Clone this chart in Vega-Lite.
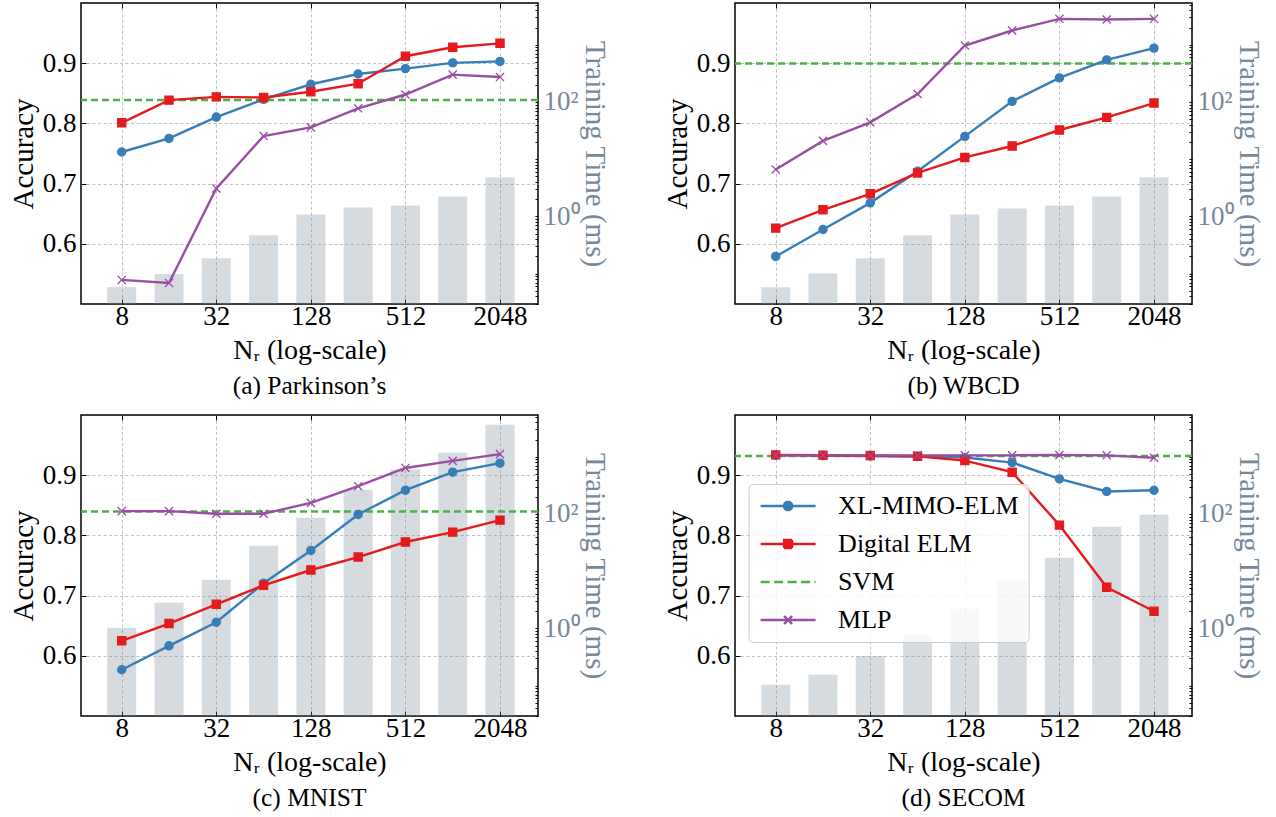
{
  "$schema": "https://vega.github.io/schema/vega-lite/v6.json",
  "background": "white",
  "padding": {"left": 8, "top": -10, "right": 5, "bottom": 5},
  "datasets": {
    "acc": [
      {"p": "a", "m": "XL-MIMO-ELM", "n": 8, "v": 0.7525}, {"p": "a", "m": "XL-MIMO-ELM", "n": 16, "v": 0.775}, {"p": "a", "m": "XL-MIMO-ELM", "n": 32, "v": 0.8105}, {"p": "a", "m": "XL-MIMO-ELM", "n": 64, "v": 0.840}, {"p": "a", "m": "XL-MIMO-ELM", "n": 128, "v": 0.865}, {"p": "a", "m": "XL-MIMO-ELM", "n": 256, "v": 0.882}, {"p": "a", "m": "XL-MIMO-ELM", "n": 512, "v": 0.891}, {"p": "a", "m": "XL-MIMO-ELM", "n": 1024, "v": 0.9005}, {"p": "a", "m": "XL-MIMO-ELM", "n": 2048, "v": 0.903},
      {"p": "a", "m": "Digital ELM", "n": 8, "v": 0.801}, {"p": "a", "m": "Digital ELM", "n": 16, "v": 0.8387}, {"p": "a", "m": "Digital ELM", "n": 32, "v": 0.844}, {"p": "a", "m": "Digital ELM", "n": 64, "v": 0.843}, {"p": "a", "m": "Digital ELM", "n": 128, "v": 0.8525}, {"p": "a", "m": "Digital ELM", "n": 256, "v": 0.866}, {"p": "a", "m": "Digital ELM", "n": 512, "v": 0.9116}, {"p": "a", "m": "Digital ELM", "n": 1024, "v": 0.9265}, {"p": "a", "m": "Digital ELM", "n": 2048, "v": 0.933},
      {"p": "a", "m": "MLP", "n": 8, "v": 0.540}, {"p": "a", "m": "MLP", "n": 16, "v": 0.535}, {"p": "a", "m": "MLP", "n": 32, "v": 0.692}, {"p": "a", "m": "MLP", "n": 64, "v": 0.779}, {"p": "a", "m": "MLP", "n": 128, "v": 0.7934}, {"p": "a", "m": "MLP", "n": 256, "v": 0.825}, {"p": "a", "m": "MLP", "n": 512, "v": 0.848}, {"p": "a", "m": "MLP", "n": 1024, "v": 0.881}, {"p": "a", "m": "MLP", "n": 2048, "v": 0.877},
      {"p": "b", "m": "XL-MIMO-ELM", "n": 8, "v": 0.579}, {"p": "b", "m": "XL-MIMO-ELM", "n": 16, "v": 0.6238}, {"p": "b", "m": "XL-MIMO-ELM", "n": 32, "v": 0.668}, {"p": "b", "m": "XL-MIMO-ELM", "n": 64, "v": 0.7205}, {"p": "b", "m": "XL-MIMO-ELM", "n": 128, "v": 0.7784}, {"p": "b", "m": "XL-MIMO-ELM", "n": 256, "v": 0.8366}, {"p": "b", "m": "XL-MIMO-ELM", "n": 512, "v": 0.8756}, {"p": "b", "m": "XL-MIMO-ELM", "n": 1024, "v": 0.9055}, {"p": "b", "m": "XL-MIMO-ELM", "n": 2048, "v": 0.925},
      {"p": "b", "m": "Digital ELM", "n": 8, "v": 0.626}, {"p": "b", "m": "Digital ELM", "n": 16, "v": 0.6565}, {"p": "b", "m": "Digital ELM", "n": 32, "v": 0.683}, {"p": "b", "m": "Digital ELM", "n": 64, "v": 0.7177}, {"p": "b", "m": "Digital ELM", "n": 128, "v": 0.7435}, {"p": "b", "m": "Digital ELM", "n": 256, "v": 0.7624}, {"p": "b", "m": "Digital ELM", "n": 512, "v": 0.789}, {"p": "b", "m": "Digital ELM", "n": 1024, "v": 0.81}, {"p": "b", "m": "Digital ELM", "n": 2048, "v": 0.8338},
      {"p": "b", "m": "MLP", "n": 8, "v": 0.7235}, {"p": "b", "m": "MLP", "n": 16, "v": 0.771}, {"p": "b", "m": "MLP", "n": 32, "v": 0.8017}, {"p": "b", "m": "MLP", "n": 64, "v": 0.8488}, {"p": "b", "m": "MLP", "n": 128, "v": 0.9294}, {"p": "b", "m": "MLP", "n": 256, "v": 0.9543}, {"p": "b", "m": "MLP", "n": 512, "v": 0.9737}, {"p": "b", "m": "MLP", "n": 1024, "v": 0.9726}, {"p": "b", "m": "MLP", "n": 2048, "v": 0.9737},
      {"p": "c", "m": "XL-MIMO-ELM", "n": 8, "v": 0.5768}, {"p": "c", "m": "XL-MIMO-ELM", "n": 16, "v": 0.6166}, {"p": "c", "m": "XL-MIMO-ELM", "n": 32, "v": 0.6558}, {"p": "c", "m": "XL-MIMO-ELM", "n": 64, "v": 0.7204}, {"p": "c", "m": "XL-MIMO-ELM", "n": 128, "v": 0.775}, {"p": "c", "m": "XL-MIMO-ELM", "n": 256, "v": 0.8348}, {"p": "c", "m": "XL-MIMO-ELM", "n": 512, "v": 0.8751}, {"p": "c", "m": "XL-MIMO-ELM", "n": 1024, "v": 0.905}, {"p": "c", "m": "XL-MIMO-ELM", "n": 2048, "v": 0.92},
      {"p": "c", "m": "Digital ELM", "n": 8, "v": 0.6249}, {"p": "c", "m": "Digital ELM", "n": 16, "v": 0.6536}, {"p": "c", "m": "Digital ELM", "n": 32, "v": 0.6856}, {"p": "c", "m": "Digital ELM", "n": 64, "v": 0.7171}, {"p": "c", "m": "Digital ELM", "n": 128, "v": 0.7425}, {"p": "c", "m": "Digital ELM", "n": 256, "v": 0.764}, {"p": "c", "m": "Digital ELM", "n": 512, "v": 0.789}, {"p": "c", "m": "Digital ELM", "n": 1024, "v": 0.8055}, {"p": "c", "m": "Digital ELM", "n": 2048, "v": 0.8254},
      {"p": "c", "m": "MLP", "n": 8, "v": 0.8403}, {"p": "c", "m": "MLP", "n": 16, "v": 0.8403}, {"p": "c", "m": "MLP", "n": 32, "v": 0.836}, {"p": "c", "m": "MLP", "n": 64, "v": 0.836}, {"p": "c", "m": "MLP", "n": 128, "v": 0.854}, {"p": "c", "m": "MLP", "n": 256, "v": 0.8818}, {"p": "c", "m": "MLP", "n": 512, "v": 0.912}, {"p": "c", "m": "MLP", "n": 1024, "v": 0.9238}, {"p": "c", "m": "MLP", "n": 2048, "v": 0.935},
      {"p": "d", "m": "XL-MIMO-ELM", "n": 8, "v": 0.9331}, {"p": "d", "m": "XL-MIMO-ELM", "n": 16, "v": 0.9326}, {"p": "d", "m": "XL-MIMO-ELM", "n": 32, "v": 0.932}, {"p": "d", "m": "XL-MIMO-ELM", "n": 64, "v": 0.931}, {"p": "d", "m": "XL-MIMO-ELM", "n": 128, "v": 0.9293}, {"p": "d", "m": "XL-MIMO-ELM", "n": 256, "v": 0.921}, {"p": "d", "m": "XL-MIMO-ELM", "n": 512, "v": 0.8939}, {"p": "d", "m": "XL-MIMO-ELM", "n": 1024, "v": 0.873}, {"p": "d", "m": "XL-MIMO-ELM", "n": 2048, "v": 0.875},
      {"p": "d", "m": "Digital ELM", "n": 8, "v": 0.9337}, {"p": "d", "m": "Digital ELM", "n": 16, "v": 0.9331}, {"p": "d", "m": "Digital ELM", "n": 32, "v": 0.9326}, {"p": "d", "m": "Digital ELM", "n": 64, "v": 0.9315}, {"p": "d", "m": "Digital ELM", "n": 128, "v": 0.9243}, {"p": "d", "m": "Digital ELM", "n": 256, "v": 0.905}, {"p": "d", "m": "Digital ELM", "n": 512, "v": 0.8171}, {"p": "d", "m": "Digital ELM", "n": 1024, "v": 0.7138}, {"p": "d", "m": "Digital ELM", "n": 2048, "v": 0.674},
      {"p": "d", "m": "MLP", "n": 8, "v": 0.933}, {"p": "d", "m": "MLP", "n": 16, "v": 0.933}, {"p": "d", "m": "MLP", "n": 32, "v": 0.933}, {"p": "d", "m": "MLP", "n": 64, "v": 0.933}, {"p": "d", "m": "MLP", "n": 128, "v": 0.933}, {"p": "d", "m": "MLP", "n": 256, "v": 0.933}, {"p": "d", "m": "MLP", "n": 512, "v": 0.9335}, {"p": "d", "m": "MLP", "n": 1024, "v": 0.933}, {"p": "d", "m": "MLP", "n": 2048, "v": 0.929}
    ],
    "time": [
      {"p": "a", "n": 8, "t": 0.0582}, {"p": "a", "n": 16, "t": 0.0982}, {"p": "a", "n": 32, "t": 0.185}, {"p": "a", "n": 64, "t": 0.467}, {"p": "a", "n": 128, "t": 1.086}, {"p": "a", "n": 256, "t": 1.44}, {"p": "a", "n": 512, "t": 1.56}, {"p": "a", "n": 1024, "t": 2.24}, {"p": "a", "n": 2048, "t": 4.82},
      {"p": "b", "n": 8, "t": 0.058}, {"p": "b", "n": 16, "t": 0.101}, {"p": "b", "n": 32, "t": 0.185}, {"p": "b", "n": 64, "t": 0.467}, {"p": "b", "n": 128, "t": 1.086}, {"p": "b", "n": 256, "t": 1.38}, {"p": "b", "n": 512, "t": 1.56}, {"p": "b", "n": 1024, "t": 2.24}, {"p": "b", "n": 2048, "t": 4.82},
      {"p": "c", "n": 8, "t": 1.03}, {"p": "c", "n": 16, "t": 2.81}, {"p": "c", "n": 32, "t": 7.1}, {"p": "c", "n": 64, "t": 27.9}, {"p": "c", "n": 128, "t": 86.1}, {"p": "c", "n": 256, "t": 265}, {"p": "c", "n": 512, "t": 601}, {"p": "c", "n": 1024, "t": 1178}, {"p": "c", "n": 2048, "t": 3631},
      {"p": "d", "n": 8, "t": 0.1035}, {"p": "d", "n": 16, "t": 0.155}, {"p": "d", "n": 32, "t": 0.329}, {"p": "d", "n": 64, "t": 0.774}, {"p": "d", "n": 128, "t": 2.21}, {"p": "d", "n": 256, "t": 6.81}, {"p": "d", "n": 512, "t": 17.2}, {"p": "d", "n": 1024, "t": 59.8}, {"p": "d", "n": 2048, "t": 97.0}
    ],
    "svm": [
      {"p": "a", "v": 0.839}, {"p": "b", "v": 0.8995}, {"p": "c", "v": 0.8398}, {"p": "d", "v": 0.932}
    ]
  },
  "columns": 2,
  "spacing": {"row": 111, "column": 197},
  "bounds": "flush",
  "resolve": {"scale": {"color": "independent", "shape": "independent", "stroke": "independent"}},
  "concat": [
    {
      "width": 457, "height": 301,
      "title": {"text": "(a) Parkinson’s", "orient": "bottom", "offset": 9},
      "layer": [
        {
          "data": {"name": "time"},
          "transform": [{"filter": "datum.p === 'a'"}],
          "mark": {"type": "bar", "size": 29, "color": "#778899", "opacity": 0.3},
          "encoding": {
            "x": {"field": "n", "type": "quantitative", "scale": {"type": "log", "base": 2, "domain": [4.74, 3322], "nice": false}, "axis": {"orient": "bottom", "values": [8, 32, 128, 512, 2048], "format": "d", "title": "Nᵣ (log-scale)", "titleFontSize": 28, "titlePadding": 7, "labelPadding": 4.5, "grid": true}},
            "y": {"field": "t", "type": "quantitative", "scale": {"type": "log", "domain": [0.0295, 5370], "nice": false}, "axis": {"orient": "right", "values": [0.03, 0.04, 0.05, 0.06, 0.07, 0.08, 0.09, 0.1, 0.2, 0.3, 0.4, 0.5, 0.6, 0.7, 0.8, 0.9, 1, 2, 3, 4, 5, 6, 7, 8, 9, 10, 20, 30, 40, 50, 60, 70, 80, 90, 100, 200, 300, 400, 500, 600, 700, 800, 900, 1000, 2000, 3000, 4000, 5000], "labelExpr": "datum.value == 1 ? '10⁰' : datum.value == 100 ? '10²' : ''", "labelOverlap": false, "labelColor": "#778899", "title": "Training Time (ms)", "titleColor": "#778899", "titlePadding": 0, "labelPadding": 8, "tickSize": -3, "grid": false}},
            "y2": {"datum": 0.0295}
          }
        },
        {
          "layer": [
            {
              "data": {"name": "svm"},
              "transform": [{"filter": "datum.p === 'a'"}],
              "mark": {"type": "rule", "color": "#4daf4a", "strokeWidth": 2.5, "strokeDash": [7, 4]},
              "encoding": {"y": {"field": "v", "type": "quantitative", "scale": {"domain": [0.5, 1.0], "nice": false, "zero": false}, "axis": {"orient": "left", "values": [0.6, 0.7, 0.8, 0.9], "format": ".1f", "title": "Accuracy", "titlePadding": 4, "labelPadding": 10, "grid": true}}}
            },
            {
              "data": {"name": "acc"},
              "transform": [{"filter": "datum.p === 'a'"}],
              "mark": {"type": "line", "strokeWidth": 2.4},
              "encoding": {
                "x": {"field": "n", "type": "quantitative", "axis": {"orient": "top", "values": [8, 32, 128, 512, 2048], "labels": false, "title": null, "grid": false}},
                "y": {"field": "v", "type": "quantitative"},
                "color": {"field": "m", "type": "nominal", "scale": {"domain": ["XL-MIMO-ELM", "Digital ELM", "SVM", "MLP"], "range": ["#377eb8", "#e41a1c", "#4daf4a", "#984ea3"]}, "legend": null}
              }
            },
            {
              "data": {"name": "acc"},
              "transform": [{"filter": "datum.p === 'a'"}],
              "mark": {"type": "point", "filled": true, "size": 66, "strokeWidth": 1.3, "opacity": 1},
              "encoding": {
                "x": {"field": "n", "type": "quantitative"},
                "y": {"field": "v", "type": "quantitative"},
                "color": {"field": "m", "type": "nominal", "legend": null},
                "stroke": {"field": "m", "type": "nominal", "scale": {"domain": ["XL-MIMO-ELM", "Digital ELM", "SVM", "MLP"], "range": ["#377eb8", "#e41a1c", "#4daf4a", "#984ea3"]}, "legend": null},
                "shape": {"field": "m", "type": "nominal", "scale": {"domain": ["XL-MIMO-ELM", "Digital ELM", "MLP"], "range": ["circle", "square", "M-1,-1L1,1M-1,1L1,-1"]}, "legend": null}
              }
            }
          ]
        }
      ],
      "resolve": {"scale": {"y": "independent"}}
    },
    {
      "width": 457, "height": 301,
      "title": {"text": "(b) WBCD", "orient": "bottom", "offset": 9},
      "layer": [
        {
          "data": {"name": "time"},
          "transform": [{"filter": "datum.p === 'b'"}],
          "mark": {"type": "bar", "size": 29, "color": "#778899", "opacity": 0.3},
          "encoding": {
            "x": {"field": "n", "type": "quantitative", "scale": {"type": "log", "base": 2, "domain": [4.74, 3322], "nice": false}, "axis": {"orient": "bottom", "values": [8, 32, 128, 512, 2048], "format": "d", "title": "Nᵣ (log-scale)", "titleFontSize": 28, "titlePadding": 7, "labelPadding": 4.5, "grid": true}},
            "y": {"field": "t", "type": "quantitative", "scale": {"type": "log", "domain": [0.0295, 5370], "nice": false}, "axis": {"orient": "right", "values": [0.03, 0.04, 0.05, 0.06, 0.07, 0.08, 0.09, 0.1, 0.2, 0.3, 0.4, 0.5, 0.6, 0.7, 0.8, 0.9, 1, 2, 3, 4, 5, 6, 7, 8, 9, 10, 20, 30, 40, 50, 60, 70, 80, 90, 100, 200, 300, 400, 500, 600, 700, 800, 900, 1000, 2000, 3000, 4000, 5000], "labelExpr": "datum.value == 1 ? '10⁰' : datum.value == 100 ? '10²' : ''", "labelOverlap": false, "labelColor": "#778899", "title": "Training Time (ms)", "titleColor": "#778899", "titlePadding": 0, "labelPadding": 8, "tickSize": -3, "grid": false}},
            "y2": {"datum": 0.0295}
          }
        },
        {
          "layer": [
            {
              "data": {"name": "svm"},
              "transform": [{"filter": "datum.p === 'b'"}],
              "mark": {"type": "rule", "color": "#4daf4a", "strokeWidth": 2.5, "strokeDash": [7, 4]},
              "encoding": {"y": {"field": "v", "type": "quantitative", "scale": {"domain": [0.5, 1.0], "nice": false, "zero": false}, "axis": {"orient": "left", "values": [0.6, 0.7, 0.8, 0.9], "format": ".1f", "title": "Accuracy", "titlePadding": 4, "labelPadding": 10, "grid": true}}}
            },
            {
              "data": {"name": "acc"},
              "transform": [{"filter": "datum.p === 'b'"}],
              "mark": {"type": "line", "strokeWidth": 2.4},
              "encoding": {
                "x": {"field": "n", "type": "quantitative", "axis": {"orient": "top", "values": [8, 32, 128, 512, 2048], "labels": false, "title": null, "grid": false}},
                "y": {"field": "v", "type": "quantitative"},
                "color": {"field": "m", "type": "nominal", "scale": {"domain": ["XL-MIMO-ELM", "Digital ELM", "SVM", "MLP"], "range": ["#377eb8", "#e41a1c", "#4daf4a", "#984ea3"]}, "legend": null}
              }
            },
            {
              "data": {"name": "acc"},
              "transform": [{"filter": "datum.p === 'b'"}],
              "mark": {"type": "point", "filled": true, "size": 66, "strokeWidth": 1.3, "opacity": 1},
              "encoding": {
                "x": {"field": "n", "type": "quantitative"},
                "y": {"field": "v", "type": "quantitative"},
                "color": {"field": "m", "type": "nominal", "legend": null},
                "stroke": {"field": "m", "type": "nominal", "scale": {"domain": ["XL-MIMO-ELM", "Digital ELM", "SVM", "MLP"], "range": ["#377eb8", "#e41a1c", "#4daf4a", "#984ea3"]}, "legend": null},
                "shape": {"field": "m", "type": "nominal", "scale": {"domain": ["XL-MIMO-ELM", "Digital ELM", "MLP"], "range": ["circle", "square", "M-1,-1L1,1M-1,1L1,-1"]}, "legend": null}
              }
            }
          ]
        }
      ],
      "resolve": {"scale": {"y": "independent"}}
    },
    {
      "width": 457, "height": 301,
      "title": {"text": "(c) MNIST", "orient": "bottom", "offset": 9},
      "layer": [
        {
          "data": {"name": "time"},
          "transform": [{"filter": "datum.p === 'c'"}],
          "mark": {"type": "bar", "size": 29, "color": "#778899", "opacity": 0.3},
          "encoding": {
            "x": {"field": "n", "type": "quantitative", "scale": {"type": "log", "base": 2, "domain": [4.74, 3322], "nice": false}, "axis": {"orient": "bottom", "values": [8, 32, 128, 512, 2048], "format": "d", "title": "Nᵣ (log-scale)", "titleFontSize": 28, "titlePadding": 7, "labelPadding": 4.5, "grid": true}},
            "y": {"field": "t", "type": "quantitative", "scale": {"type": "log", "domain": [0.0295, 5370], "nice": false}, "axis": {"orient": "right", "values": [0.03, 0.04, 0.05, 0.06, 0.07, 0.08, 0.09, 0.1, 0.2, 0.3, 0.4, 0.5, 0.6, 0.7, 0.8, 0.9, 1, 2, 3, 4, 5, 6, 7, 8, 9, 10, 20, 30, 40, 50, 60, 70, 80, 90, 100, 200, 300, 400, 500, 600, 700, 800, 900, 1000, 2000, 3000, 4000, 5000], "labelExpr": "datum.value == 1 ? '10⁰' : datum.value == 100 ? '10²' : ''", "labelOverlap": false, "labelColor": "#778899", "title": "Training Time (ms)", "titleColor": "#778899", "titlePadding": 0, "labelPadding": 8, "tickSize": -3, "grid": false}},
            "y2": {"datum": 0.0295}
          }
        },
        {
          "layer": [
            {
              "data": {"name": "svm"},
              "transform": [{"filter": "datum.p === 'c'"}],
              "mark": {"type": "rule", "color": "#4daf4a", "strokeWidth": 2.5, "strokeDash": [7, 4]},
              "encoding": {"y": {"field": "v", "type": "quantitative", "scale": {"domain": [0.5, 1.0], "nice": false, "zero": false}, "axis": {"orient": "left", "values": [0.6, 0.7, 0.8, 0.9], "format": ".1f", "title": "Accuracy", "titlePadding": 4, "labelPadding": 10, "grid": true}}}
            },
            {
              "data": {"name": "acc"},
              "transform": [{"filter": "datum.p === 'c'"}],
              "mark": {"type": "line", "strokeWidth": 2.4},
              "encoding": {
                "x": {"field": "n", "type": "quantitative", "axis": {"orient": "top", "values": [8, 32, 128, 512, 2048], "labels": false, "title": null, "grid": false}},
                "y": {"field": "v", "type": "quantitative"},
                "color": {"field": "m", "type": "nominal", "scale": {"domain": ["XL-MIMO-ELM", "Digital ELM", "SVM", "MLP"], "range": ["#377eb8", "#e41a1c", "#4daf4a", "#984ea3"]}, "legend": null}
              }
            },
            {
              "data": {"name": "acc"},
              "transform": [{"filter": "datum.p === 'c'"}],
              "mark": {"type": "point", "filled": true, "size": 66, "strokeWidth": 1.3, "opacity": 1},
              "encoding": {
                "x": {"field": "n", "type": "quantitative"},
                "y": {"field": "v", "type": "quantitative"},
                "color": {"field": "m", "type": "nominal", "legend": null},
                "stroke": {"field": "m", "type": "nominal", "scale": {"domain": ["XL-MIMO-ELM", "Digital ELM", "SVM", "MLP"], "range": ["#377eb8", "#e41a1c", "#4daf4a", "#984ea3"]}, "legend": null},
                "shape": {"field": "m", "type": "nominal", "scale": {"domain": ["XL-MIMO-ELM", "Digital ELM", "MLP"], "range": ["circle", "square", "M-1,-1L1,1M-1,1L1,-1"]}, "legend": null}
              }
            }
          ]
        }
      ],
      "resolve": {"scale": {"y": "independent"}}
    },
    {
      "width": 457, "height": 301,
      "title": {"text": "(d) SECOM", "orient": "bottom", "offset": 9},
      "layer": [
        {
          "data": {"name": "time"},
          "transform": [{"filter": "datum.p === 'd'"}],
          "mark": {"type": "bar", "size": 29, "color": "#778899", "opacity": 0.3},
          "encoding": {
            "x": {"field": "n", "type": "quantitative", "scale": {"type": "log", "base": 2, "domain": [4.74, 3322], "nice": false}, "axis": {"orient": "bottom", "values": [8, 32, 128, 512, 2048], "format": "d", "title": "Nᵣ (log-scale)", "titleFontSize": 28, "titlePadding": 7, "labelPadding": 4.5, "grid": true}},
            "y": {"field": "t", "type": "quantitative", "scale": {"type": "log", "domain": [0.0295, 5370], "nice": false}, "axis": {"orient": "right", "values": [0.03, 0.04, 0.05, 0.06, 0.07, 0.08, 0.09, 0.1, 0.2, 0.3, 0.4, 0.5, 0.6, 0.7, 0.8, 0.9, 1, 2, 3, 4, 5, 6, 7, 8, 9, 10, 20, 30, 40, 50, 60, 70, 80, 90, 100, 200, 300, 400, 500, 600, 700, 800, 900, 1000, 2000, 3000, 4000, 5000], "labelExpr": "datum.value == 1 ? '10⁰' : datum.value == 100 ? '10²' : ''", "labelOverlap": false, "labelColor": "#778899", "title": "Training Time (ms)", "titleColor": "#778899", "titlePadding": 0, "labelPadding": 8, "tickSize": -3, "grid": false}},
            "y2": {"datum": 0.0295}
          }
        },
        {
          "layer": [
            {
              "data": {"name": "svm"},
              "transform": [{"filter": "datum.p === 'd'"}],
              "mark": {"type": "rule", "color": "#4daf4a", "strokeWidth": 2.5, "strokeDash": [7, 4]},
              "encoding": {"y": {"field": "v", "type": "quantitative", "scale": {"domain": [0.5, 1.0], "nice": false, "zero": false}, "axis": {"orient": "left", "values": [0.6, 0.7, 0.8, 0.9], "format": ".1f", "title": "Accuracy", "titlePadding": 4, "labelPadding": 10, "grid": true}}}
            },
            {
              "data": {"name": "acc"},
              "transform": [{"filter": "datum.p === 'd'"}],
              "mark": {"type": "line", "strokeWidth": 2.4},
              "encoding": {
                "x": {"field": "n", "type": "quantitative", "axis": {"orient": "top", "values": [8, 32, 128, 512, 2048], "labels": false, "title": null, "grid": false}},
                "y": {"field": "v", "type": "quantitative"},
                "color": {"field": "m", "type": "nominal", "scale": {"domain": ["XL-MIMO-ELM", "Digital ELM", "SVM", "MLP"], "range": ["#377eb8", "#e41a1c", "#4daf4a", "#984ea3"]},
                  "legend": {
                    "title": null, "orient": "none", "legendX": 13.6, "legendY": 69,
                    "fillColor": "rgba(255,255,255,0.8)", "strokeColor": "#cccccc", "cornerRadius": 4, "padding": 9,
                    "labelFont": "Liberation Serif", "labelFontSize": 26, "labelColor": "black", "labelOffset": 37, "labelLimit": 400,
                    "symbolSize": 400, "symbolOffset": 17.5, "symbolStrokeWidth": 2.4, "rowPadding": 12,
                    "encode": {"symbols": {"update": {
                      "shape": {"signal": "datum.value === 'XL-MIMO-ELM' ? 'M-2.75,0H2.75M0.415,0A0.415,0.415,0,1,1,-0.415,0A0.415,0.415,0,1,1,0.415,0Z' : datum.value === 'Digital ELM' ? 'M-2.75,0H2.75M-0.4,-0.4H0.4V0.4H-0.4Z' : datum.value === 'MLP' ? 'M-2.75,0H2.75M-0.4,-0.4L0.4,0.4M-0.4,0.4L0.4,-0.4' : 'M-2.75,0H2.75'"},
                      "fill": {"signal": "datum.value === 'XL-MIMO-ELM' ? '#377eb8' : datum.value === 'Digital ELM' ? '#e41a1c' : datum.value === 'SVM' ? 'transparent' : '#984ea3'"},
                      "stroke": {"signal": "datum.value === 'XL-MIMO-ELM' ? '#377eb8' : datum.value === 'Digital ELM' ? '#e41a1c' : datum.value === 'SVM' ? '#4daf4a' : '#984ea3'"},
                      "strokeDash": {"signal": "datum.value === 'SVM' ? [9, 4.5] : [1, 0]"},
                      "opacity": {"value": 1}
                    }}}
                  }
                }
              }
            },
            {
              "data": {"name": "acc"},
              "transform": [{"filter": "datum.p === 'd'"}],
              "mark": {"type": "point", "filled": true, "size": 66, "strokeWidth": 1.3, "opacity": 1},
              "encoding": {
                "x": {"field": "n", "type": "quantitative"},
                "y": {"field": "v", "type": "quantitative"},
                "color": {"field": "m", "type": "nominal", "legend": null},
                "stroke": {"field": "m", "type": "nominal", "scale": {"domain": ["XL-MIMO-ELM", "Digital ELM", "SVM", "MLP"], "range": ["#377eb8", "#e41a1c", "#4daf4a", "#984ea3"]}, "legend": null},
                "shape": {"field": "m", "type": "nominal", "scale": {"domain": ["XL-MIMO-ELM", "Digital ELM", "MLP"], "range": ["circle", "square", "M-1,-1L1,1M-1,1L1,-1"]}, "legend": null}
              }
            }
          ]
        }
      ],
      "resolve": {"scale": {"y": "independent"}}
    }
  ],
  "config": {
    "font": "Liberation Serif",
    "view": {"stroke": "black", "strokeWidth": 1.5},
    "axis": {"domain": false, "labelFont": "Liberation Serif", "labelFontSize": 27, "labelColor": "black", "titleFont": "Liberation Serif", "titleFontSize": 29, "titleFontWeight": "normal", "titleColor": "black", "tickColor": "black", "tickSize": -5, "tickWidth": 1, "gridColor": "#b0b0b0", "gridDash": [3, 2.5], "gridWidth": 0.8},
    "title": {"font": "Liberation Serif", "fontSize": 25.5, "fontWeight": "normal", "color": "black", "anchor": "middle"}
  }
}
